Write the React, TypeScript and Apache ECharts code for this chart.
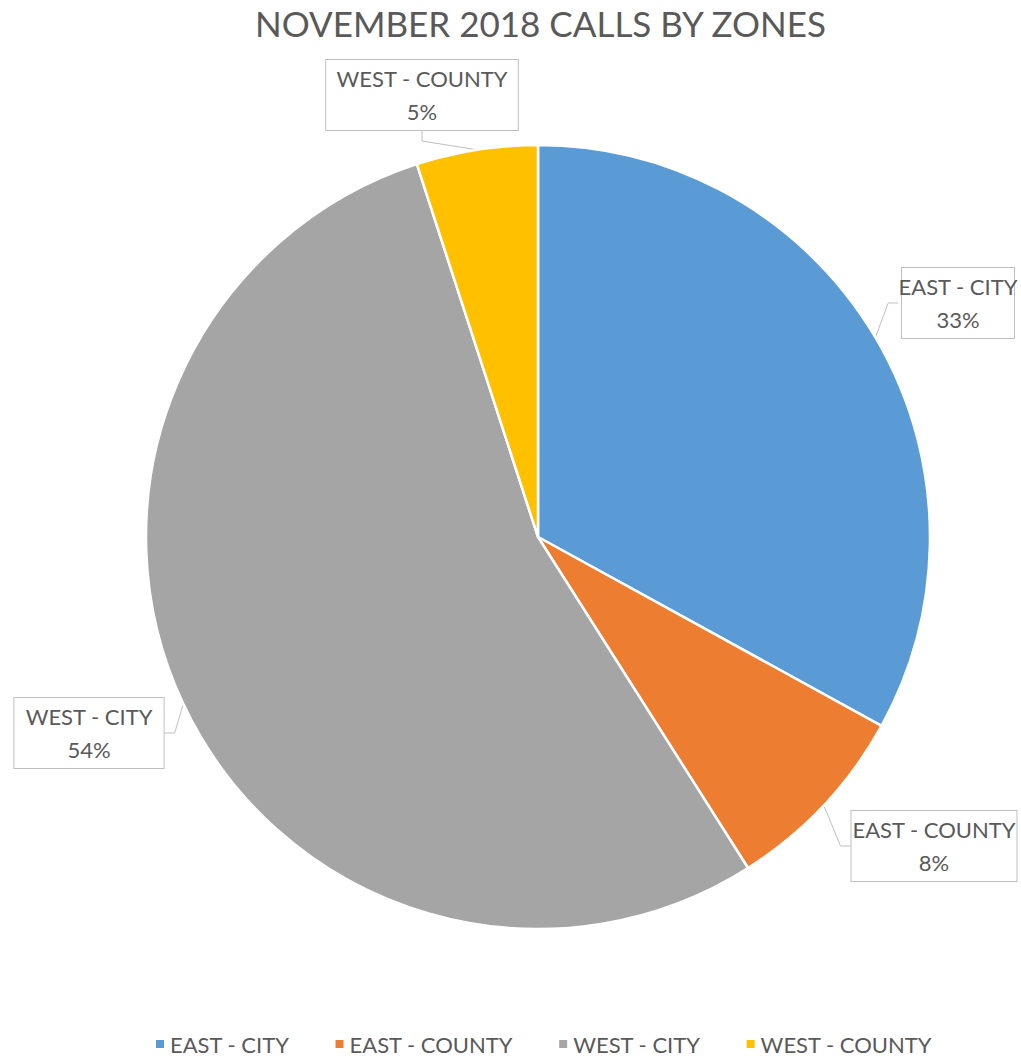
import React, { useEffect, useRef } from "react";
import * as echarts from "echarts";

const categories = ["EAST - CITY", "EAST - COUNTY", "WEST - CITY", "WEST - COUNTY"];
const values = [33, 8, 54, 5];
const colors = ["#5B9BD5", "#ED7D31", "#A5A5A5", "#FFC000"];
const titleText = "NOVEMBER 2018 CALLS BY ZONES";

// label anchors (box centre) per slice
const labelAnchors = [
  { x: 958, y: 303 },
  { x: 934, y: 846 },
  { x: 89, y: 733 },
  { x: 422, y: 95 },
];

const FONT = "Lato, 'Open Sans', sans-serif";

export default function App() {
  const ref = useRef<HTMLDivElement>(null);
  useEffect(() => {
    if (!ref.current) return;
    const chart = echarts.init(ref.current, undefined, { renderer: "svg" });
    chart.setOption({
      animation: false,
      backgroundColor: "#ffffff",
      color: colors,
      title: {
        text: titleText,
        left: 250,
        top: 0,
        textStyle: { color: "#595959", fontSize: 35, fontWeight: "normal", fontFamily: FONT },
      },
      legend: {
        bottom: 0,
        left: 149,
        itemWidth: 10,
        itemHeight: 10,
        itemGap: 44,
        icon: "rect",
        textStyle: { color: "#595959", fontSize: 22, fontFamily: FONT },
        data: categories,
      },
      series: [
        {
          type: "pie",
          center: [538, 537],
          radius: 392,
          startAngle: 90,
          clockwise: true,
          data: categories.map((c, i) => ({ name: c, value: values[i] })),
          itemStyle: { borderColor: "#ffffff", borderWidth: 2.5 },
          label: {
            show: true,
            formatter: (p: any) => `${p.name}\n${Math.round(p.percent)}%`,
            color: "#595959",
            fontSize: 22,
            fontFamily: FONT,
            lineHeight: 33,
            overflow: "none",
            backgroundColor: "#ffffff",
            borderColor: "#BFBFBF",
            borderWidth: 1,
            padding: [2, 10, 2, 10],
            align: "center",
          },
          labelLine: {
            show: true,
            lineStyle: { color: "#BFBFBF", width: 1 },
            length: 10,
            length2: 10,
          },
          labelLayout: (params: any) => {
            const a = labelAnchors[params.dataIndex];
            return { x: a.x, y: a.y, align: "center", verticalAlign: "middle" };
          },
        },
      ],
    });
    return () => chart.dispose();
  }, []);
  return (
    <div
      ref={ref}
      style={{ position: "fixed", left: 0, top: 0, width: 1021, height: 1060 }}
    />
  );
}
